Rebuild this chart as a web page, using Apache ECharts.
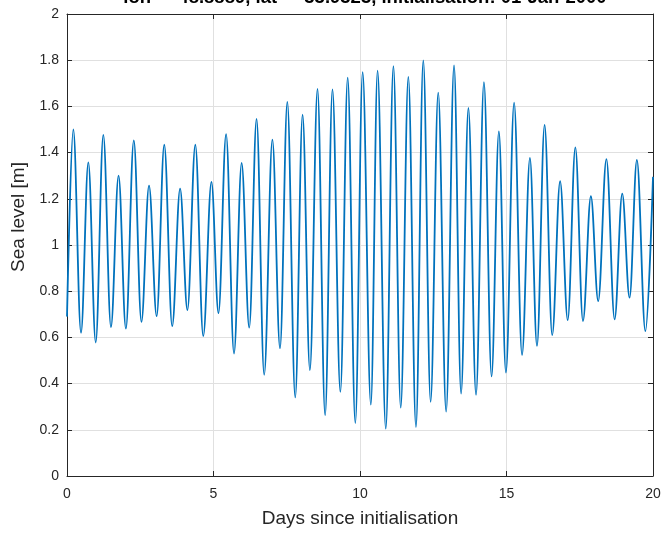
<!DOCTYPE html>
<html>
<head>
<meta charset="utf-8">
<title>Sea level</title>
<script src="https://cdn.jsdelivr.net/npm/echarts@6/dist/echarts.min.js"></script>
<style>
  html, body { margin: 0; padding: 0; background: #fff; }
  #chart { width: 666px; height: 533px; }
</style>
</head>
<body>
<div id="chart"></div>
<script>
// successive highs and lows of the tide
const days = [
  0, 0.215, 0.478, 0.728, 0.98, 1.24, 1.5, 1.76, 2.01, 2.28,
  2.54, 2.8, 3.06, 3.32, 3.59, 3.86, 4.11, 4.38, 4.65, 4.93,
  5.17, 5.43, 5.7, 5.96, 6.22, 6.47, 6.73, 7.01, 7.27, 7.52,
  7.79, 8.04, 8.29, 8.55, 8.81, 9.06, 9.33, 9.58, 9.84, 10.09,
  10.37, 10.6, 10.88, 11.14, 11.39, 11.65, 11.91, 12.16, 12.41, 12.67,
  12.94, 13.21, 13.45, 13.7, 13.96, 14.23, 14.49, 14.74, 14.98, 15.26,
  15.53, 15.8, 16.04, 16.3, 16.56, 16.83, 17.09, 17.35, 17.61, 17.88,
  18.13, 18.41, 18.69, 18.95, 19.2, 19.45, 19.74, 20
]
const seaLevel = [
  0.69, 1.5, 0.62, 1.358, 0.578, 1.477, 0.645, 1.3, 0.638, 1.453,
  0.667, 1.257, 0.692, 1.434, 0.649, 1.244, 0.718, 1.434, 0.606, 1.273,
  0.705, 1.48, 0.53, 1.355, 0.642, 1.546, 0.438, 1.456, 0.553, 1.62,
  0.34, 1.564, 0.458, 1.676, 0.263, 1.674, 0.364, 1.725, 0.229, 1.748,
  0.309, 1.755, 0.205, 1.774, 0.296, 1.728, 0.212, 1.799, 0.321, 1.66,
  0.279, 1.777, 0.357, 1.593, 0.351, 1.705, 0.431, 1.492, 0.448, 1.616,
  0.524, 1.377, 0.563, 1.52, 0.61, 1.276, 0.675, 1.423, 0.671, 1.211,
  0.757, 1.372, 0.678, 1.222, 0.772, 1.368, 0.627, 1.295
]
const titleText = 'lon = -48.8889, lat = -33.9323, initialisation: 01-Jan-2000'

const axisColor = '#262626'
const gridColor = '#e0e0e0'
const font = 'Liberation Sans, Arial, Helvetica, sans-serif'

const chart = echarts.init(document.getElementById('chart'), null, { renderer: 'canvas' })

// box axes (top / right) only carry the line and inward ticks
function boxAxis(pos, min, max, step) {
  return {
    type: 'value', position: pos, min: min, max: max, interval: step,
    axisLine: { show: true, onZero: false, lineStyle: { color: axisColor, width: 1 } },
    axisTick: { show: true, inside: true, length: 5, lineStyle: { color: axisColor } },
    axisLabel: { show: false },
    splitLine: { show: false }
  }
}

chart.setOption({
  animation: false,
  title: {
    text: titleText,
    left: 360,
    textAlign: 'center',
    top: -16,
    textStyle: { fontFamily: font, fontSize: 18.5, fontWeight: 'bold', color: '#000', lineHeight: 18.5 }
  },
  grid: { left: 67, right: 13, top: 14, bottom: 56, containLabel: false },
  xAxis: [
    {
      type: 'value', min: 0, max: 20, interval: 5,
      name: 'Days since initialisation',
      nameLocation: 'middle',
      nameGap: 33,
      nameTextStyle: { fontFamily: font, fontSize: 19, color: axisColor },
      axisLine: { show: true, onZero: false, lineStyle: { color: axisColor, width: 1 } },
      axisTick: { show: true, inside: true, length: 5, lineStyle: { color: axisColor } },
      axisLabel: { margin: 11, fontFamily: font, fontSize: 14, color: axisColor },
      splitLine: { show: true, lineStyle: { color: gridColor, width: 1 } }
    },
    boxAxis('top', 0, 20, 5)
  ],
  yAxis: [
    {
      type: 'value', min: 0, max: 2, interval: 0.2,
      name: 'Sea level [m]',
      nameLocation: 'middle',
      nameGap: 31,
      nameRotate: 90,
      nameTextStyle: { fontFamily: font, fontSize: 19, color: axisColor, padding: [0, 0, 0, 56] },
      axisLine: { show: true, onZero: false, lineStyle: { color: axisColor, width: 1 } },
      axisTick: { show: true, inside: true, length: 5, lineStyle: { color: axisColor } },
      axisLabel: { margin: 8, fontFamily: font, fontSize: 14, color: axisColor },
      splitLine: { show: true, lineStyle: { color: gridColor, width: 1 } }
    },
    boxAxis('right', 0, 2, 0.2)
  ],
  series: [
    {
      type: 'line',
      xAxisIndex: 0,
      yAxisIndex: 0,
      data: days.map((d, i) => [d, seaLevel[i]]),
      showSymbol: false,
      smooth: 0.36,
      smoothMonotone: 'x',
      lineStyle: { color: '#0072BD', width: 1.8 },
      itemStyle: { color: '#0072BD' }
    }
  ]
})
</script>
</body>
</html>
